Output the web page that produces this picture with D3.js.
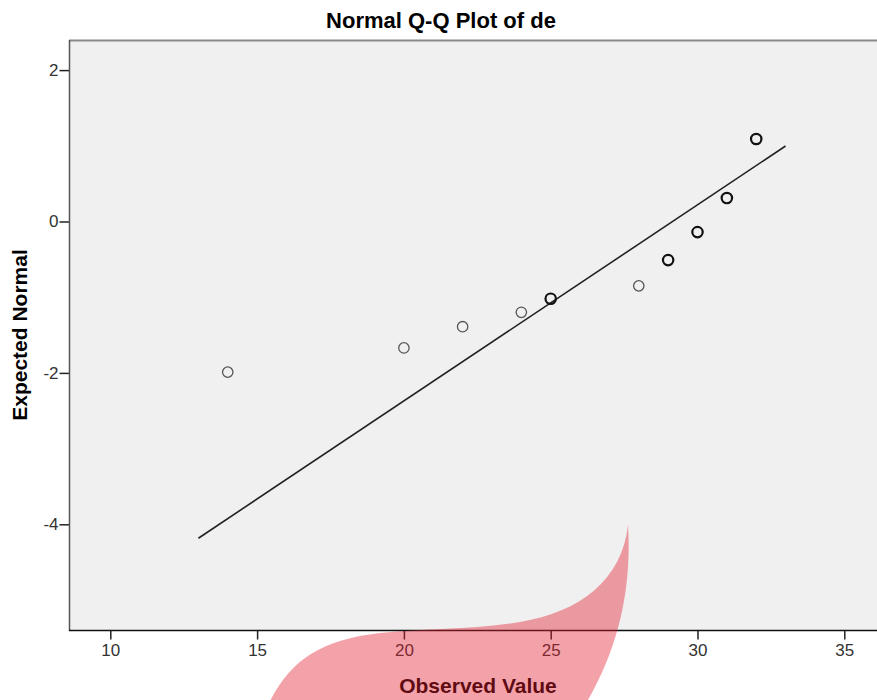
<!DOCTYPE html>
<html>
<head>
<meta charset="utf-8">
<script src="https://cdn.jsdelivr.net/npm/d3@7"></script>
<style>
  body { margin: 0; background: #fff; }
  text { font-family: "Liberation Sans", Arial, sans-serif; }
</style>
</head>
<body>
<div id="chart"></div>
<script>
// Canvas size
var width = 877,
    height = 700;

var observed = [14, 20, 22, 24, 25, 28, 29, 30, 31, 32];
var expected = [-1.99, -1.67, -1.39, -1.20, -1.02, -0.85, -0.51, -0.14, 0.31, 1.09];
// points drawn with a heavier ring (several cases at the same value)
var repeated = [false, false, false, false, true, false, true, true, true, true];

// reference line: expected = (x - mean) / sd
var lineMean = 29.15,
    lineSd = 3.86,
    lineRange = [13, 33];

var xTicks = [10, 15, 20, 25, 30, 35];
var yTicks = [2, 0, -2, -4];

// plot area
var plot = { left: 69, top: 40, right: 890, bottom: 631 };

var svg = d3.select("#chart")
            .append("svg")
            .attr("width", width)
            .attr("height", height);

var x = d3.scaleLinear().domain([10, 35]).range([110.3, 844.3]);
var y = d3.scaleLinear().domain([0, -4]).range([221.5, 524.3]);

// background
svg.append("rect")
   .attr("x", plot.left)
   .attr("y", plot.top)
   .attr("width", plot.right - plot.left)
   .attr("height", plot.bottom - plot.top)
   .attr("fill", "#f0f0f0");

// frame top, grey
svg.append("line")
   .attr("x1", plot.left).attr("x2", plot.right)
   .attr("y1", plot.top + 0.5).attr("y2", plot.top + 0.5)
   .attr("stroke", "#888").attr("stroke-width", 2);

// Title
svg.append("text")
   .attr("x", 441)
   .attr("y", 28)
   .attr("text-anchor", "middle")
   .style("font-size", "22px")
   .style("font-weight", "bold")
   .attr("fill", "#000")
   .text("Normal Q-Q Plot of de");

// Y axis
var yAxis = d3.axisLeft(y).tickValues(yTicks).tickSize(10).tickPadding(1).tickFormat(function(d) { return String(d); });
var gy = svg.append("g")
            .attr("transform", "translate(" + (plot.left + 0.5) + ",0)")
            .call(yAxis);
gy.select(".domain").remove();
gy.append("line")
  .attr("y1", plot.top).attr("y2", plot.bottom)
  .attr("stroke", "#555").attr("stroke-width", 1.5);
gy.selectAll(".tick line").attr("stroke", "#222").attr("stroke-width", 1.5);
gy.selectAll(".tick text")
  .attr("fill", "#333")
  .style("font-size", "17px")
  .style("font-family", "'Liberation Sans', Arial, sans-serif");

// X axis
var xAxis = d3.axisBottom(x).tickValues(xTicks).tickSize(9).tickPadding(4).tickFormat(function(d) { return String(d); });
var gx = svg.append("g")
            .attr("transform", "translate(0," + (plot.bottom - 0.5) + ")")
            .call(xAxis);
gx.select(".domain").remove();
gx.append("line")
  .attr("x1", plot.left).attr("x2", plot.right)
  .attr("stroke", "#111").attr("stroke-width", 1.5);
gx.selectAll(".tick line").attr("stroke", "#222").attr("stroke-width", 1.5);
gx.selectAll(".tick text")
  .attr("fill", "#333")
  .style("font-size", "17px")
  .style("font-family", "'Liberation Sans', Arial, sans-serif");

// axis titles
svg.append("text")
   .attr("transform", "translate(27,335) rotate(-90)")
   .attr("text-anchor", "middle")
   .style("font-size", "21px")
   .style("font-weight", "bold")
   .attr("fill", "#000")
   .text("Expected Normal");

svg.append("text")
   .attr("x", 478)
   .attr("y", 693)
   .attr("text-anchor", "middle")
   .style("font-size", "21px")
   .style("font-weight", "bold")
   .attr("fill", "#000")
   .text("Observed Value");

// reference line
svg.append("line")
   .attr("x1", x(lineRange[0]))
   .attr("y1", y((lineRange[0] - lineMean) / lineSd))
   .attr("x2", x(lineRange[1]))
   .attr("y2", y((lineRange[1] - lineMean) / lineSd))
   .attr("stroke", "#222")
   .attr("stroke-width", 1.6);

// points
svg.selectAll(".point")
   .data(observed)
   .enter()
   .append("circle")
   .attr("class", "point")
   .attr("cx", function(d) { return x(d); })
   .attr("cy", function(d, i) { return y(expected[i]); })
   .attr("r", 5.2)
   .attr("fill", "none")
   .attr("stroke", function(d, i) { return repeated[i] ? "#111" : "#555"; })
   .attr("stroke-width", function(d, i) { return repeated[i] ? 2.2 : 1.3; });

// pink watermark laid over the bottom of the chart
svg.append("path")
   .attr("d", "M628,525 C632,590 618,650 585,705 L268,705 C290,660 320,640 380,633 C430,628 470,630 520,622 C580,612 622,580 628,525 Z")
   .attr("fill", "rgb(228,30,45)")
   .attr("opacity", 0.41);
</script>
</body>
</html>
